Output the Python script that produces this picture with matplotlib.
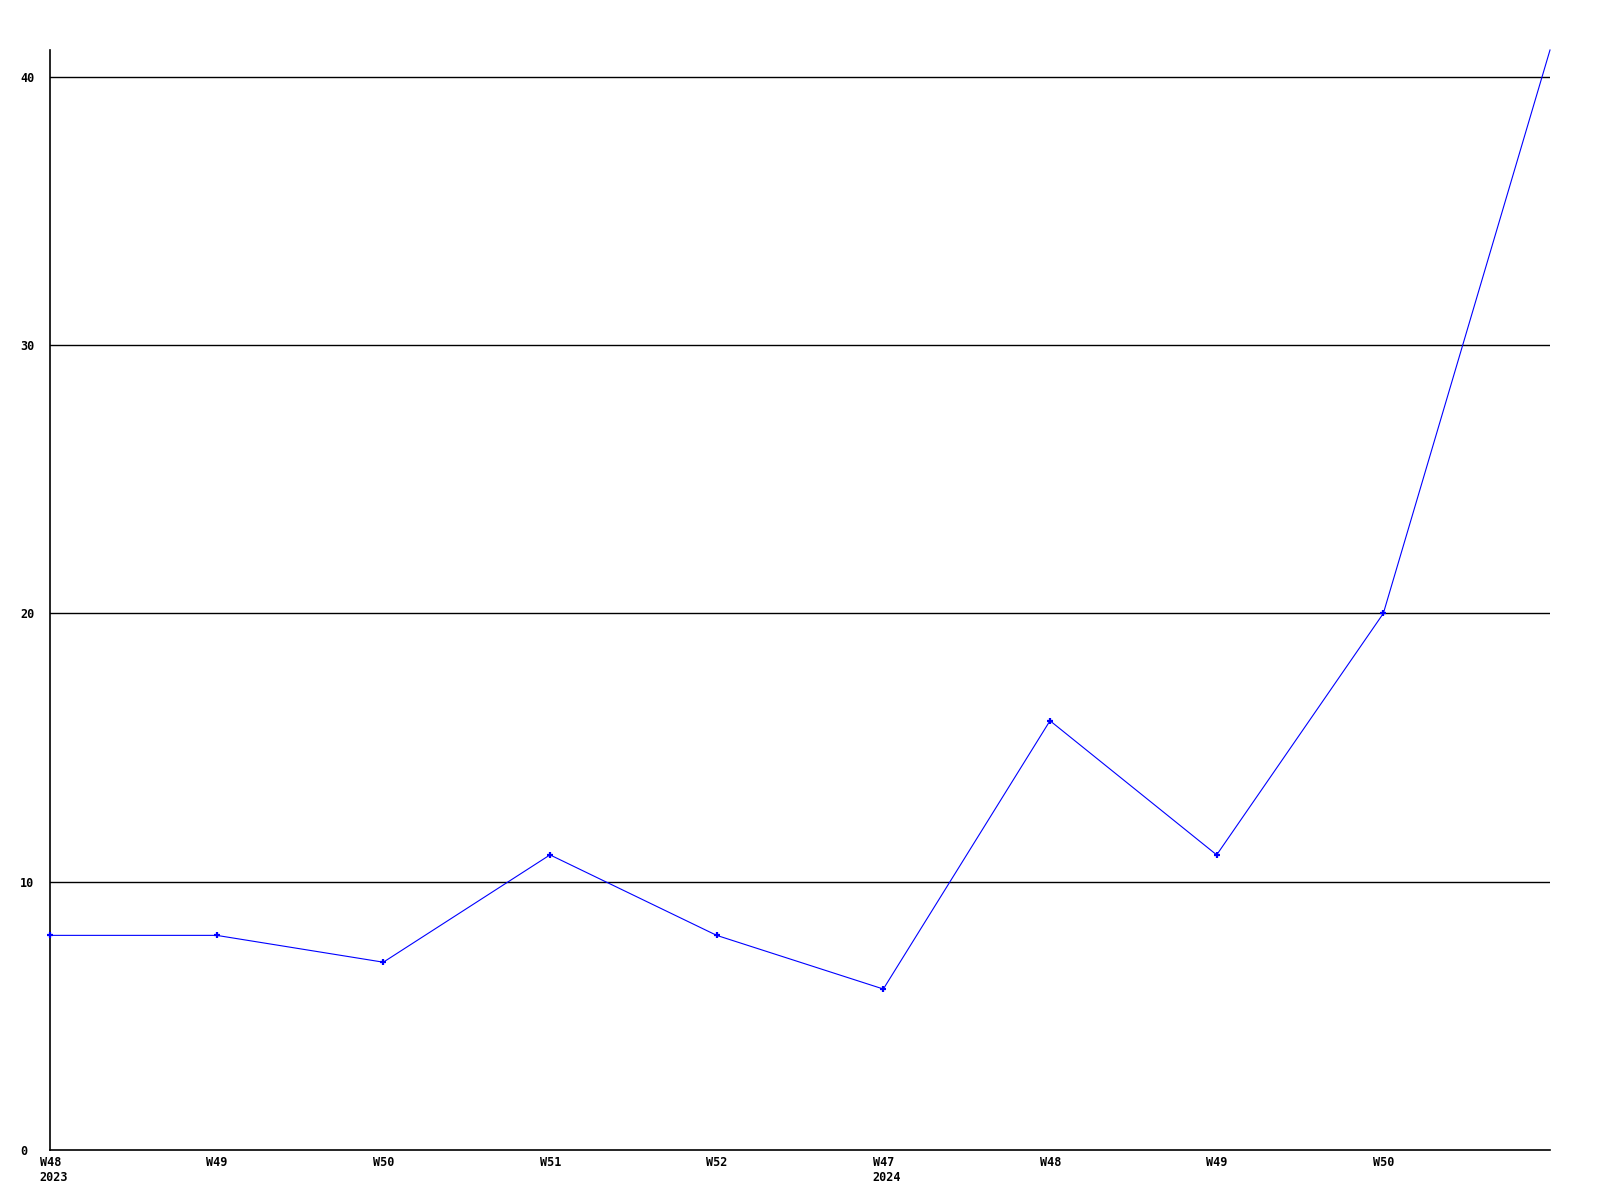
import matplotlib
matplotlib.use("Agg")
import matplotlib.pyplot as plt
import matplotlib.transforms as mtransforms

# weekly counts
weeks = ["W48", "W49", "W50", "W51", "W52", "W47", "W48", "W49", "W50", ""]
years = ["2023", "", "", "", "", "2024", "", "", "", ""]
counts = [8, 8, 7, 11, 8, 6, 16, 11, 20, 41]
y_ticks = [0, 10, 20, 30, 40]

fig = plt.figure(figsize=(16, 12), dpi=100)
ax = fig.add_axes([50 / 1600, 50 / 1200, 1500 / 1600, 1100 / 1200])

x = list(range(len(counts)))
ax.plot(x, counts, color="#0000ff", linewidth=0.8, marker="+",
        markersize=4, markeredgewidth=1.6, markevery=list(range(len(counts) - 1)),
        clip_on=False, zorder=3)

ax.set_xlim(0, len(counts) - 1)
ax.set_ylim(0, 41)

for y in y_ticks[1:]:
    ax.axhline(y, color="black", linewidth=1.0, zorder=1)

for side in ["top", "right"]:
    ax.spines[side].set_visible(False)
for side in ["left", "bottom"]:
    ax.spines[side].set_linewidth(1.2)
    ax.spines[side].set_color("black")

font = dict(family="DejaVu Sans Mono", size=8.5, weight="bold")

ax.set_yticks(y_ticks)
ax.set_yticklabels([str(v) for v in y_ticks], **font)
ax.tick_params(axis="y", length=0, pad=21.5)
for lab in ax.get_yticklabels():
    lab.set_horizontalalignment("left")

ticks = x[:-1]
labels = []
for w, yr in zip(weeks[:-1], years[:-1]):
    labels.append(w + ("\n" + yr if yr else ""))
ax.set_xticks(ticks)
ax.set_xticklabels(labels, **font)
ax.tick_params(axis="x", length=0, pad=4.5)
shift = mtransforms.ScaledTranslation(-10.5 / 100, 0, fig.dpi_scale_trans)
for lab in ax.get_xticklabels():
    lab.set_horizontalalignment("left")
    lab.set_multialignment("left")
    lab.set_linespacing(1.2)
    lab.set_transform(lab.get_transform() + shift)

fig.savefig("out.png", dpi=100, facecolor="white")
